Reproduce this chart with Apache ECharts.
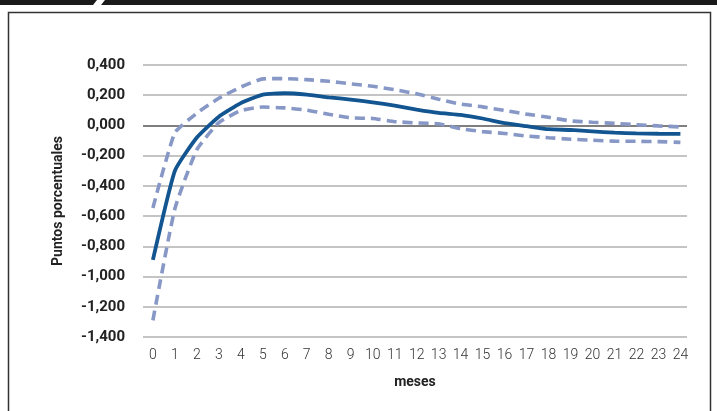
<!DOCTYPE html>
<html>
<head>
<meta charset="utf-8">
<script src="https://cdn.jsdelivr.net/npm/echarts@6/dist/echarts.min.js"></script>
<style>
html,body{margin:0;padding:0;background:#fff;}
#chart{width:717px;height:411px;}
</style>
</head>
<body>
<div id="chart"></div>
<script>
var months = [0,1,2,3,4,5,6,7,8,9,10,11,12,13,14,15,16,17,18,19,20,21,22,23,24];
var central = [-0.89,-0.30,-0.08,0.058,0.148,0.204,0.213,0.204,0.186,0.171,0.153,0.131,0.105,0.083,0.07,0.046,0.015,-0.005,-0.025,-0.03,-0.039,-0.048,-0.053,-0.055,-0.056];
var upper = [-0.546,-0.048,0.081,0.18,0.254,0.308,0.31,0.303,0.292,0.275,0.259,0.237,0.209,0.174,0.141,0.123,0.099,0.075,0.054,0.03,0.021,0.014,0.005,-0.003,-0.01];
var lower = [-1.29,-0.551,-0.16,0.019,0.098,0.122,0.116,0.101,0.074,0.05,0.046,0.025,0.017,0.011,-0.021,-0.041,-0.053,-0.07,-0.081,-0.091,-0.098,-0.104,-0.105,-0.107,-0.112];
var yTicks = [-1.4,-1.2,-1.0,-0.8,-0.6,-0.4,-0.2,0,0.2,0.4];

function pairs(arr){ return months.map(function(m,i){ return [m, arr[i]]; }); }

var gridColors = yTicks.map(function(v){ return Math.abs(v) < 1e-9 ? '#7f7f7f' : '#c4c4c4'; });

var chart = echarts.init(document.getElementById('chart'), null, {renderer:'canvas'});
chart.setOption({
  animation:false,
  backgroundColor:'#fff',
  graphic:[
    {type:'polygon', shape:{points:[[0,0],[97,0],[93,5],[0,5]]}, style:{fill:'#1a1a1a'}},
    {type:'polygon', shape:{points:[[105,0],[717,0],[717,5],[101,5]]}, style:{fill:'#1a1a1a'}},
    {type:'rect', shape:{x:8.5,y:12.5,width:702,height:410}, style:{fill:'none',stroke:'#333',lineWidth:1.5}, z:-1}
  ],
  grid:{left:143,right:30,top:65,bottom:74},
  xAxis:{
    type:'value', min:-0.45, max:24.3,
    name:'meses', nameLocation:'middle', nameGap:38,
    nameTextStyle:{fontFamily:'Roboto', fontWeight:'bold', fontSize:14, color:'#222'},
    axisLine:{show:false}, axisTick:{show:false}, splitLine:{show:false},
    axisLabel:{customValues:months, margin:11, fontFamily:'Roboto', fontWeight:300, fontSize:14, color:'#333',
      formatter:function(v){ return String(Math.round(v)); }}
  },
  yAxis:{
    type:'value', min:-1.4, max:0.4, interval:0.2,
    name:'Puntos porcentuales', nameLocation:'middle', nameGap:78,
    nameTextStyle:{fontFamily:'Roboto', fontWeight:'bold', fontSize:14, color:'#222'},
    axisLine:{show:false}, axisTick:{show:false},
    splitLine:{show:true, lineStyle:{color:gridColors, width:1.8}},
    axisLabel:{margin:18, fontFamily:'Roboto', fontWeight:'bold', fontSize:15, color:'#222',
      formatter:function(v){ var s=(Math.abs(v)<1e-9?0:v).toFixed(3).replace('.',','); return s; }}
  },
  series:[
    {type:'line', data:pairs(upper), smooth:0.15, symbol:'none',
      lineStyle:{color:'#8798c6', width:3.6, type:[10,6]}},
    {type:'line', data:pairs(lower), smooth:0.15, symbol:'none',
      lineStyle:{color:'#8798c6', width:3.6, type:[10,6]}},
    {type:'line', data:pairs(central), smooth:0.15, symbol:'none',
      lineStyle:{color:'#135590', width:3.8}}
  ]
});
</script>
</body>
</html>
